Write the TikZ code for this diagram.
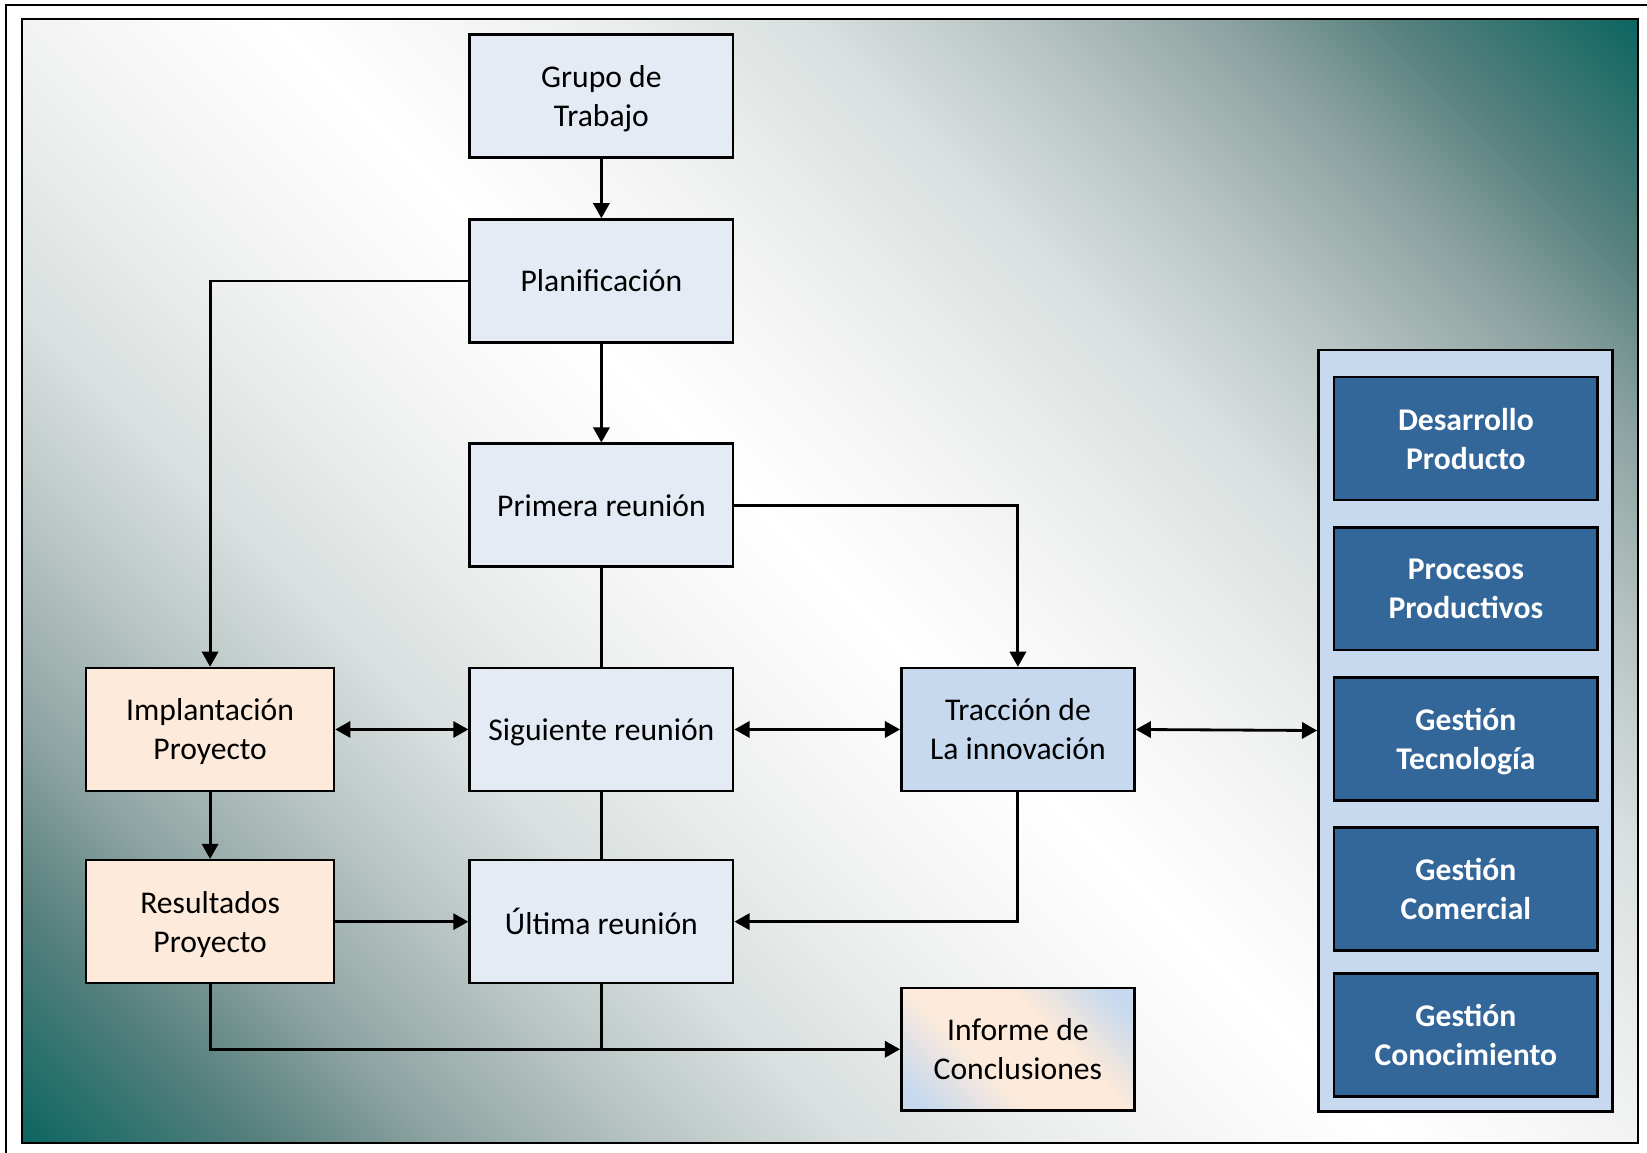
\documentclass[tikz,border=0pt]{standalone}
\usepackage{fontspec}
\setmainfont{Carlito}
\usepackage{tikz}
\usetikzlibrary{calc,arrows.meta}
\definecolor{bg_teal}{RGB}{14,102,98}
\definecolor{bg_a}{RGB}{240,242,241}
\definecolor{bg_b}{RGB}{216,223,222}
\definecolor{bg_c}{RGB}{182,195,194}
\definecolor{bg_d}{RGB}{140,163,161}
\definecolor{bg_e}{RGB}{90,130,127}
\definecolor{box_blue}{HTML}{E4EBF5}
\definecolor{box_mid}{HTML}{C6D9EE}
\definecolor{box_peach}{HTML}{FDEADA}
\definecolor{box_dark}{HTML}{336699}
\pgfdeclareverticalshading{bg_shade}{100bp}{color(0bp)=(bg_teal); color(25bp)=(bg_teal); color(29.5bp)=(bg_e); color(32.5bp)=(bg_d); color(36.25bp)=(bg_c); color(40bp)=(bg_b); color(45bp)=(bg_a); color(50bp)=(white); color(55bp)=(bg_a); color(60bp)=(bg_b); color(63.75bp)=(bg_c); color(67.5bp)=(bg_d); color(70.5bp)=(bg_e); color(75bp)=(bg_teal); color(100bp)=(bg_teal)}
\pgfdeclareverticalshading{inf_shade}{100bp}{color(0bp)=(box_mid); color(20bp)=(box_mid); color(40bp)=(box_peach); color(60bp)=(box_peach); color(80bp)=(box_mid); color(100bp)=(box_mid)}

\begin{document}
\begin{tikzpicture}[scale=1,>={Stealth[length=4.3pt,width=4.6pt,inset=0pt]},
  stepbox/.style={draw,line width=0.7pt,fill=box_blue,minimum width=2.636cm,minimum height=1.229cm,inner sep=0pt,text depth=0pt,align=center,font=\fontsize{9}{11.1}\selectfont},
  peachbox/.style={stepbox,fill=box_peach,minimum width=2.479cm},
  midbox/.style={stepbox,fill=box_mid,minimum width=2.332cm},
  infbox/.style={midbox,shade,shading=inf_shade,shading angle=-45},
  areabox/.style={stepbox,fill=box_dark,text=white,font=\fontsize{9}{11.1}\selectfont\bfseries},
  link/.style={line width=0.8pt}]
              \useasboundingbox (0,0) rectangle (16.47,11.53);
              % fondo
              \begin{scope}
                \clip (0.22,0.10) rectangle (16.38,11.34);
                \shade[shading=bg_shade,shading angle=-45] (-1.387,-3.967) rectangle (17.987,15.407);
              \end{scope}
              \draw[line width=0.7pt] (0.22,0.10) rectangle (16.38,11.34);
              \draw[line width=0.7pt] (16.47,11.48) -- (0.06,11.48) -- (0.06,0);
              % cajas
              \node[stepbox] (grupo) at (6.014,10.569) {Grupo de\\Trabajo};
              \node[stepbox] (plan) at (6.014,8.72) {Planificación};
              \node[stepbox] (primera) at (6.014,6.478) {Primera reunión};
              \node[stepbox] (siguiente) at (6.014,4.235) {Siguiente reunión};
              \node[stepbox] (ultima) at (6.014,2.313) {Última reunión};
              \node[peachbox] (impl) at (2.101,4.235) {Implantación\\Proyecto};
              \node[peachbox] (result) at (2.101,2.313) {Resultados\\Proyecto};
              \node[midbox] (traccion) at (10.179,4.235) {Tracción de\\La innovación};
              \node[infbox] (informe) at (10.179,1.037) {Informe de\\Conclusiones};
              % areas
              \node[stepbox,fill=box_mid,minimum width=2.941cm,minimum height=7.615cm] (areas) at (14.654,4.2245) {};
              \node[areabox] (desarrollo) at (14.659,7.144) {Desarrollo\\Producto};
              \node[areabox] (procesos) at (14.659,5.642) {Procesos\\Productivos};
              \node[areabox] (tecnologia) at (14.659,4.14) {Gestión\\Tecnología};
              \node[areabox] (comercial) at (14.659,2.638) {Gestión\\Comercial};
              \node[areabox] (conocimiento) at (14.659,1.178) {Gestión\\Conocimiento};
              % flechas
              \draw[->,link] (grupo) -- (plan);
              \draw[->,link] (plan) -- (primera);
              \draw[->,link] (plan.west) -| (impl.north);
              \draw[->,link] (primera.east) -| (traccion.north);
              \draw[link] (primera) -- (siguiente);
              \draw[<->,link] (impl) -- (siguiente);
              \draw[<->,link] (siguiente) -- (traccion);
              \draw[<->,link] (traccion.east) -- (areas.west);
              \draw[->,link] (impl) -- (result);
              \draw[link] (siguiente) -- (ultima);
              \draw[->,link] (result) -- (ultima);
              \draw[->,link] (traccion.south) |- (ultima.east);
              \draw[->,link] (result.south) |- (informe.west);
              \draw[link] (ultima.south) -- (ultima.south |- informe.west);
          \end{tikzpicture}
\end{document}
